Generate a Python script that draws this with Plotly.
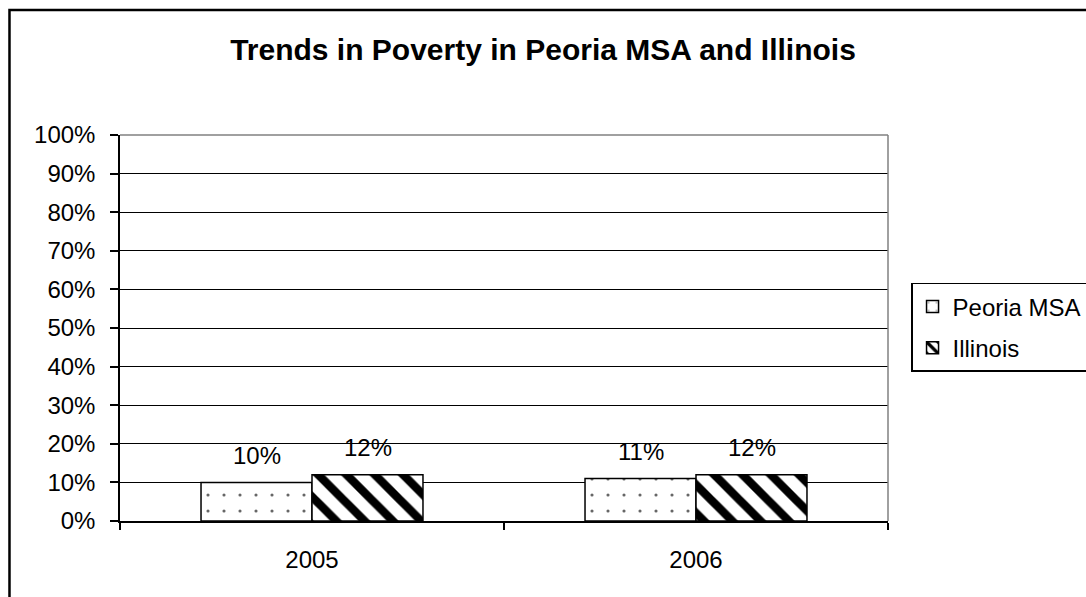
import plotly.graph_objects as go

# Poverty rates by year
years = ["2005", "2006"]
peoria_msa = [0.10, 0.11]
illinois = [0.12, 0.12]
series_names = ["Peoria MSA", "Illinois"]

FONT = "Liberation Sans, Arial, sans-serif"

fig = go.Figure()
fig.add_trace(go.Bar(
    x=years, y=peoria_msa, name=series_names[0],
    marker=dict(color="white", line=dict(color="black", width=1.5),
                pattern=dict(shape=".", fgcolor="#666666", bgcolor="white",
                             fgopacity=1, size=16, solidity=0.03,
                             fillmode="overlay")),
    legendgroup="a",
))
fig.add_trace(go.Bar(
    x=years, y=illinois, name=series_names[1],
    marker=dict(color="white", line=dict(color="black", width=1.5),
                pattern=dict(shape="\\", fgcolor="black", bgcolor="white",
                             fgopacity=1, size=20, solidity=0.42,
                             fillmode="overlay")),
    legendgroup="b",
))

# value labels above each bar (x given as category index)
annotations = []
for vals, shift in ((peoria_msa, -55.5), (illinois, 55.5)):
    for i, v in enumerate(vals):
        annotations.append(dict(
            x=i, y=v, xref="x", yref="y", xshift=shift, yshift=27,
            text=f"{round(v * 100)}%", showarrow=False, yanchor="middle",
            font=dict(family=FONT, size=24, color="black"),
        ))

shapes = [
    # plot-area border (top and right)
    dict(type="line", xref="paper", yref="paper", x0=0, x1=1, y0=1, y1=1,
         line=dict(color="#808080", width=1.5), layer="above"),
    dict(type="line", xref="paper", yref="paper", x0=1, x1=1, y0=0, y1=1,
         line=dict(color="#808080", width=1.5), layer="above"),
    # chart frame
    dict(type="rect", xref="paper", yref="paper", x0=-0.1439, x1=1.27,
         y0=-0.25, y1=1.3238, line=dict(color="black", width=2.5)),
]

fig.update_layout(
    width=1086, height=597,
    margin=dict(l=120, r=198, t=135, b=76, autoexpand=False),
    paper_bgcolor="white", plot_bgcolor="white",
    font=dict(family=FONT, size=24, color="black"),
    title=dict(text="<b>Trends in Poverty in Peoria MSA and Illinois</b>",
               x=0.5, xref="container", xanchor="center", y=1 - 49 / 597,
               yanchor="middle", font=dict(family=FONT, size=30)),
    barmode="group", bargap=0.422, bargroupgap=0,
    showlegend=True,
    legend=dict(x=1.030, y=0.6166, xanchor="left", yanchor="top",
                bordercolor="black", borderwidth=1.5, bgcolor="white",
                font=dict(family=FONT, size=24), traceorder="grouped",
                tracegroupgap=7),
    annotations=annotations,
    shapes=shapes,
)
fig.update_xaxes(
    type="category", tickson="boundaries", ticks="outside", ticklen=7,
    tickcolor="black", tickwidth=1.5, showline=True, linecolor="black",
    linewidth=1.5, showgrid=False, ticklabelstandoff=16,
    tickfont=dict(family=FONT, size=24),
)
fig.update_yaxes(
    range=[0, 1], dtick=0.1, tickformat=".0%", ticks="outside", ticklen=8,
    tickcolor="black", tickwidth=1.5, showline=True, linecolor="black",
    linewidth=1.5, showgrid=True, gridcolor="black", gridwidth=1,
    zeroline=False, ticklabelstandoff=10,
    tickfont=dict(family=FONT, size=24),
)

fig.write_html("out.html")
